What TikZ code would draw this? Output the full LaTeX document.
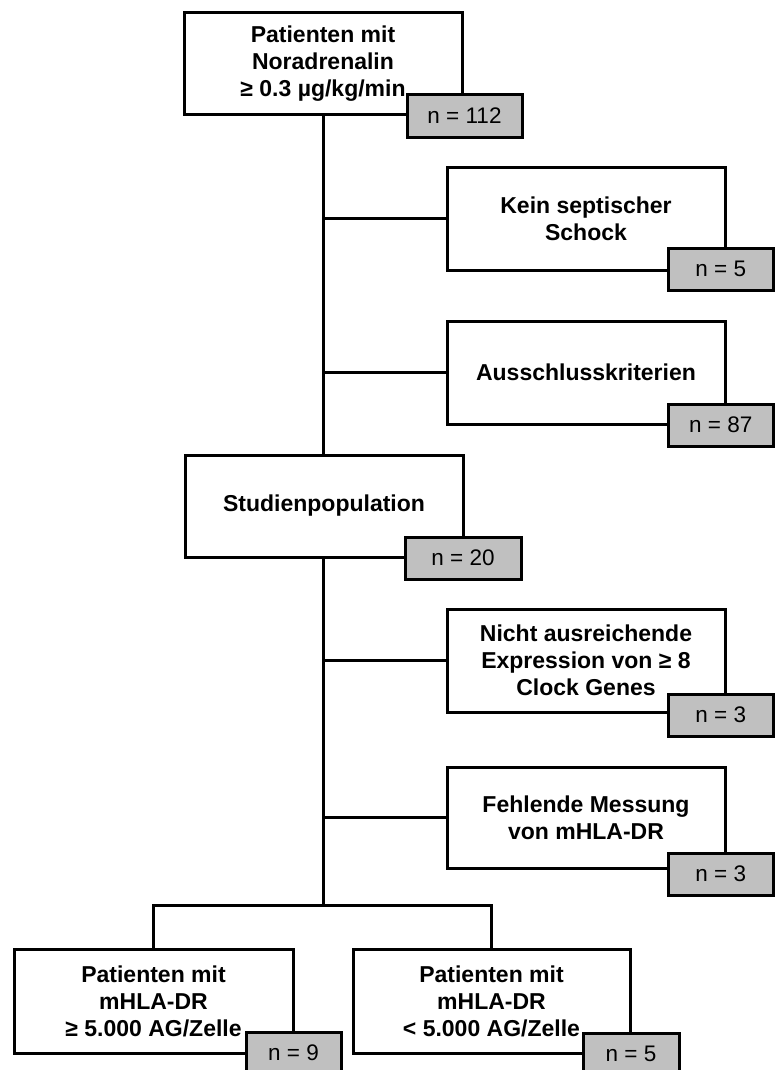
\documentclass[tikz,border=0pt]{standalone}
\usepackage{fontspec}
\setmainfont{Liberation Sans}
\definecolor{nfill}{RGB}{192,192,192}
\tikzset{
  box/.style={draw, line width=3pt, fill=white, align=center, inner sep=0pt,
    font=\bfseries\fontsize{23}{27}\selectfont},
  nbox/.style={draw, line width=3pt, fill=nfill, inner sep=0pt,
    minimum height=42pt, font=\fontsize{22.5}{27}\selectfont},
  link/.style={line width=3pt}
}
\begin{document}
\begin{tikzpicture}[x=1pt,y=-1pt]
\useasboundingbox (0,0) rectangle (775,1070);
% main boxes
\node[box, minimum width=278pt, minimum height=102pt] (top) at (323,64)
  {Patienten mit\\Noradrenalin\\≥ 0.3 µg/kg/min};
\node[box, minimum width=278pt, minimum height=103pt] (kein) at (586,218.5)
  {Kein septischer\\Schock};
\node[box, minimum width=278pt, minimum height=103pt] (aus) at (586,372.5)
  {Ausschlusskriterien};
\node[box, minimum width=278pt, minimum height=102pt] (stud) at (324,506)
  {Studienpopulation};
\node[box, minimum width=278pt, minimum height=103pt] (nicht) at (586,660.5)
  {Nicht ausreichende\\Expression von ≥ 8\\Clock Genes};
\node[box, minimum width=278pt, minimum height=101pt] (fehl) at (586,817.5)
  {Fehlende Messung\\von mHLA-DR};
\node[box, minimum width=279pt, minimum height=104pt] (left) at (153.5,1001)
  {Patienten mit\\mHLA-DR\\≥ 5.000 AG/Zelle};
\node[box, minimum width=277pt, minimum height=104pt] (right) at (491.5,1001)
  {Patienten mit\\mHLA-DR\\< 5.000 AG/Zelle};
% count boxes
\node[nbox, minimum width=115pt] (ntop) at (464.5,116) {n = 112};
\node[nbox, minimum width=105.5pt] (nkein) at (720.75,269) {n = 5};
\node[nbox, minimum width=105.5pt] (naus) at (720.75,425) {n = 87};
\node[nbox, minimum width=116pt] (nstud) at (463,558) {n = 20};
\node[nbox, minimum width=105.5pt] (nnicht) at (720.75,715) {n = 3};
\node[nbox, minimum width=105.5pt] (nfehl) at (720.75,874) {n = 3};
\node[nbox, minimum width=95pt] (nleft) at (293.5,1053) {n = 9};
\node[nbox, minimum width=96pt] (nright) at (631,1054) {n = 5};
% connectors
\coordinate (br) at (323,905);
\draw[link] (top.south -| br) -- (stud.north -| br);
\draw[link] (stud.south -| br) -- (br);
\draw[link] (kein.west) -- (kein.west -| br);
\draw[link] (aus.west) -- (aus.west -| br);
\draw[link] (nicht.west) -- (nicht.west -| br);
\draw[link] (fehl.west) -- (fehl.west -| br);
\draw[link, line join=miter] (left.north) |- (br) -| (right.north);
\end{tikzpicture}
\end{document}
